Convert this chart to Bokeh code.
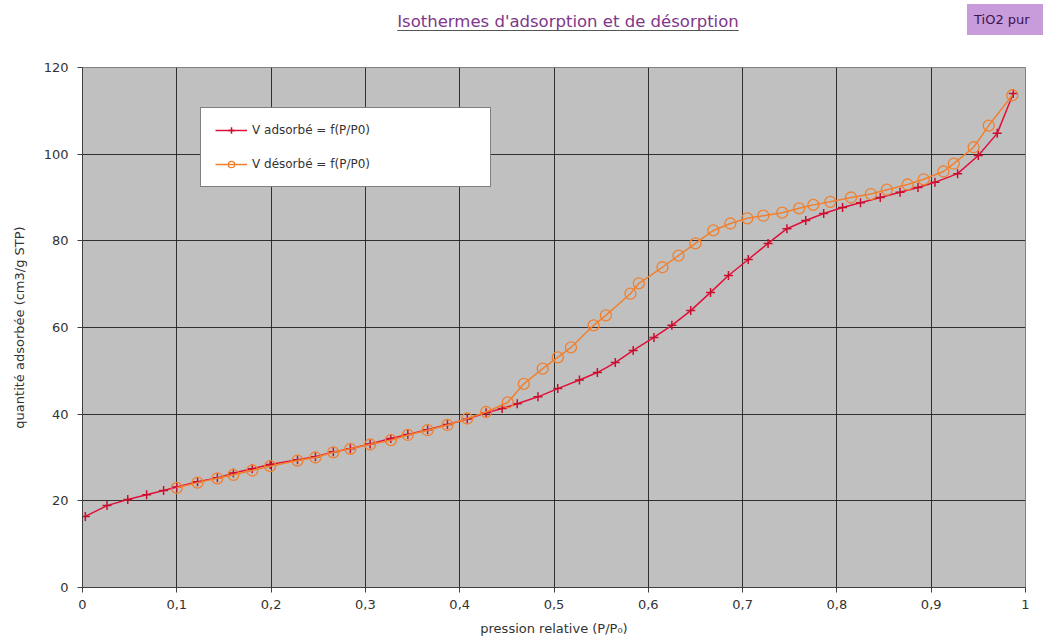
from bokeh.plotting import figure
from bokeh.layouts import column
from bokeh.models import FixedTicker, Legend, LegendItem, Div
from bokeh.embed import file_html
from bokeh.resources import INLINE

# ---- data ----
ads_x = [0.003, 0.026, 0.048, 0.068, 0.086, 0.100, 0.122, 0.143, 0.160, 0.180,
         0.199, 0.228, 0.247, 0.266, 0.284, 0.305, 0.327, 0.345, 0.366, 0.387,
         0.408, 0.428, 0.445, 0.461, 0.483, 0.504, 0.527, 0.546, 0.565, 0.584,
         0.606, 0.625, 0.645, 0.666, 0.685, 0.706, 0.727, 0.747, 0.767, 0.786,
         0.806, 0.825, 0.846, 0.867, 0.886, 0.904, 0.928, 0.950, 0.970, 0.987]
ads_y = [16.4, 18.9, 20.3, 21.4, 22.4, 23.2, 24.4, 25.3, 26.4, 27.4,
         28.4, 29.5, 30.2, 31.3, 32.0, 33.1, 34.4, 35.3, 36.4, 37.6,
         38.9, 40.3, 41.3, 42.4, 44.0, 45.9, 47.9, 49.6, 51.9, 54.7,
         57.7, 60.5, 63.9, 68.1, 72.0, 75.7, 79.4, 82.8, 84.7, 86.3,
         87.7, 88.8, 90.0, 91.2, 92.3, 93.5, 95.5, 99.7, 104.8, 114.0]

des_x = [0.100, 0.122, 0.143, 0.160, 0.180, 0.199, 0.228, 0.247, 0.266, 0.284,
         0.305, 0.327, 0.345, 0.366, 0.387, 0.408, 0.428, 0.451, 0.468, 0.488,
         0.504, 0.518, 0.542, 0.555, 0.581, 0.590, 0.615, 0.632, 0.650, 0.669,
         0.687, 0.705, 0.722, 0.742, 0.760, 0.775, 0.793, 0.815, 0.836, 0.853,
         0.875, 0.892, 0.913, 0.924, 0.945, 0.961, 0.986]
des_y = [23.0, 24.2, 25.2, 26.0, 27.0, 28.0, 29.3, 30.0, 31.2, 32.0,
         33.0, 34.0, 35.2, 36.3, 37.5, 39.0, 40.5, 42.7, 47.0, 50.5,
         53.1, 55.4, 60.5, 62.8, 67.8, 70.2, 73.9, 76.6, 79.4, 82.4,
         84.0, 85.2, 85.8, 86.5, 87.5, 88.3, 89.0, 90.0, 90.8, 91.8,
         93.0, 94.2, 96.0, 97.8, 101.6, 106.6, 113.6]

x_ticks = [0, 0.1, 0.2, 0.3, 0.4, 0.5, 0.6, 0.7, 0.8, 0.9, 1.0]
x_tick_labels = ["0", "0,1", "0,2", "0,3", "0,4", "0,5", "0,6", "0,7", "0,8", "0,9", "1"]
y_ticks = [0, 20, 40, 60, 80, 100, 120]

title_text = "Isothermes d'adsorption et de désorption"
badge_text = "TiO2 pur"
ads_label = "V adsorbé = f(P/P0)"
des_label = "V désorbé = f(P/P0)"
x_label = "pression relative (P/P\u2080)"
y_label = "quantité adsorbée (cm3/g STP)"

FONT = "DejaVu Sans"
W = 1043

header = Div(width=W, height=40, styles={"margin": "0", "padding": "0"}, text=f"""
<div style="position:relative;width:{W}px;height:40px;font-family:'{FONT}';">
  <div style="position:absolute;left:94px;top:12px;width:948px;text-align:center;
              font-size:16.5px;line-height:19px;color:#80368A;
              text-decoration:underline;text-decoration-color:#555555;
              text-underline-offset:3px;">{title_text}</div>
  <div style="position:absolute;left:967px;top:4px;width:76px;height:31px;
              background:#C89BDA;color:#3A1450;font-size:13px;line-height:31px;
              text-align:left;padding-left:7px;box-sizing:border-box;">{badge_text}</div>
</div>
""")

p = figure(width=W, height=599, output_backend="svg", toolbar_location=None,
           x_range=(0, 1), y_range=(0, 120),
           min_border_left=82, min_border_right=18, min_border_top=27, min_border_bottom=52)

p.background_fill_color = "#C0C0C0"
p.border_fill_color = "white"
p.outline_line_color = "#808080"

p.xaxis.ticker = FixedTicker(ticks=x_ticks)
p.xaxis.major_label_overrides = {t: l for t, l in zip(x_ticks, x_tick_labels)}
p.yaxis.ticker = FixedTicker(ticks=y_ticks)

for ax in (p.xaxis, p.yaxis):
    ax.axis_line_color = "#404040"
    ax.major_tick_line_color = "#404040"
    ax.minor_tick_line_color = None
    ax.major_tick_out = 5
    ax.major_tick_in = 0
    ax.major_label_text_font = FONT
    ax.major_label_text_font_size = "13px"
    ax.major_label_text_color = "#333333"
    ax.axis_label_text_font = FONT
    ax.axis_label_text_font_style = "normal"
    ax.axis_label_text_color = "#333333"

p.xaxis.axis_label = x_label
p.yaxis.axis_label = y_label
p.xaxis.axis_label_text_font_size = "13px"
p.yaxis.axis_label_text_font_size = "13px"
p.xaxis.major_label_standoff = 7
p.xaxis.axis_label_standoff = 9
p.yaxis.major_label_standoff = 9
p.yaxis.axis_label_standoff = 14

p.grid.grid_line_color = "#202020"
p.grid.grid_line_width = 1
p.grid.grid_line_alpha = 0.9

# series
r_ads_line = p.line(ads_x, ads_y, line_color="#E0103A", line_width=1.5)
r_ads_mark = p.scatter(ads_x, ads_y, marker="cross", size=9, line_color="#C8102E", line_width=1.5)
r_des_line = p.line(des_x, des_y, line_color="#F08030", line_width=1.5)
r_des_mark = p.scatter(des_x, des_y, marker="circle", size=11, fill_color=None,
                       line_color="#F08030", line_width=1.3)

legend = Legend(items=[
    LegendItem(label=ads_label, renderers=[r_ads_line, r_ads_mark]),
    LegendItem(label=des_label, renderers=[r_des_line, r_des_mark]),
], location=(118, 400))
legend.background_fill_color = "white"
legend.background_fill_alpha = 1
legend.border_line_color = "black"
legend.border_line_width = 1
legend.label_text_font = FONT
legend.label_text_font_size = "12px"
legend.label_text_color = "#333333"
legend.glyph_width = 32
legend.glyph_height = 16
legend.label_height = 16
legend.spacing = 18
legend.padding = 14
legend.label_width = 224
legend.margin = 0
p.add_layout(legend, "center")

layout = column(header, p, spacing=0)

open("out.html", "w").write(file_html(layout, INLINE))
